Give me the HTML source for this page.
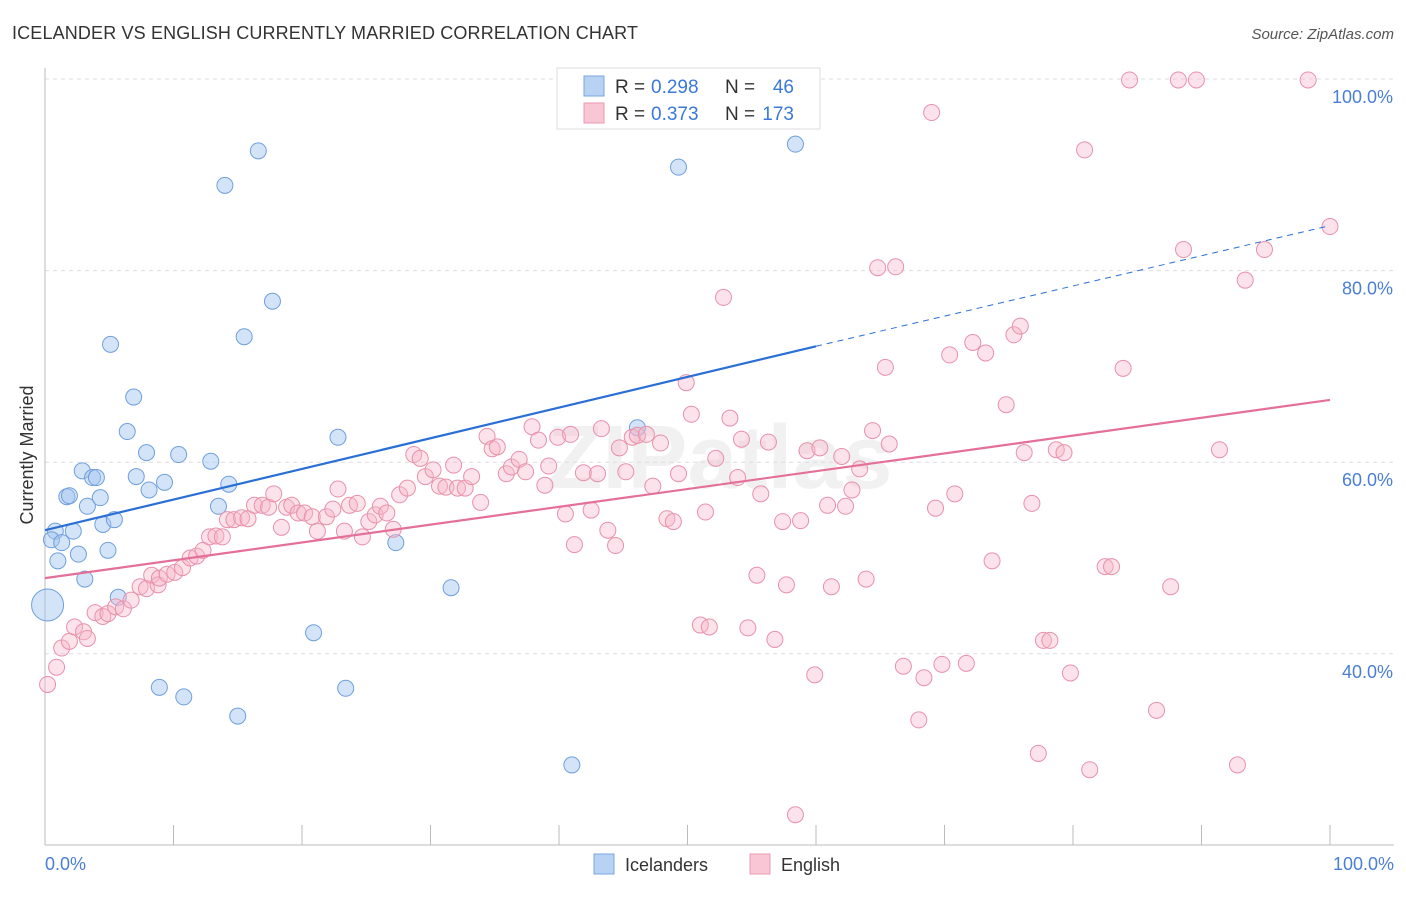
<!DOCTYPE html>
<html><head><meta charset="utf-8"><style>
body{margin:0;background:#fff;font-family:"Liberation Sans",sans-serif}
svg text{font-family:"Liberation Sans",sans-serif}
</style></head><body>
<svg id="chart" width="1406" height="892">
<text x="12" y="39" font-size="18" fill="#333" textLength="626">ICELANDER VS ENGLISH CURRENTLY MARRIED CORRELATION CHART</text>
<text x="1394" y="39" font-size="15" fill="#555" font-style="italic" text-anchor="end">Source: ZipAtlas.com</text>
<text x="720" y="488" font-size="90" fill="#000" opacity="0.05" text-anchor="middle" font-weight="bold">ZIPatlas</text>
<g id="grid"></g><g id="axes"></g><g id="pts"></g><g id="lines"></g>
<text transform="translate(33,455) rotate(-90)" font-size="18" fill="#333" text-anchor="middle">Currently Married</text>
<text x="45" y="870" font-size="18" fill="#4a7fd4">0.0%</text>
<text x="1394" y="870" font-size="18" fill="#4a7fd4" text-anchor="end">100.0%</text>
<g>
<rect x="557" y="68" width="263" height="61" fill="#fff" stroke="#ddd"/>
<rect x="584" y="76" width="20" height="20" fill="#b8d2f4" stroke="#7aa6e0"/>
<rect x="584" y="103" width="20" height="20" fill="#f9c6d5" stroke="#ea98b2"/>
<text x="615" y="93" font-size="19" fill="#333">R =</text>
<text x="651" y="93" font-size="19" fill="#3b78d8">0.298</text>
<text x="725" y="93" font-size="19" fill="#333">N =</text>
<text x="794" y="93" font-size="19" fill="#3b78d8" text-anchor="end">46</text>
<text x="615" y="120" font-size="19" fill="#333">R =</text>
<text x="651" y="120" font-size="19" fill="#3b78d8">0.373</text>
<text x="725" y="120" font-size="19" fill="#333">N =</text>
<text x="794" y="120" font-size="19" fill="#3b78d8" text-anchor="end">173</text>
</g>
<g>
<rect x="594" y="854" width="20" height="20" fill="#b8d2f4" stroke="#7aa6e0"/>
<text x="625" y="871" font-size="18" fill="#333">Icelanders</text>
<rect x="750" y="854" width="20" height="20" fill="#f9c6d5" stroke="#ea98b2"/>
<text x="781" y="871" font-size="18" fill="#333">English</text>
</g>
</svg>
<script>
const yTicks=[40,60,80,100];
const yTickLabels=["40.0%","60.0%","80.0%","100.0%"];
const xTicks=[0,10,20,30,40,50,60,70,80,90,100];
const blueX=[0.2,0.8,0.5,1.3,1.0,2.2,2.6,3.1,2.9,1.7,1.9,3.7,4.0,3.3,4.3,4.5,5.4,4.9,5.7,5.1,6.4,6.9,7.1,7.9,8.1,9.3,10.4,8.9,10.8,12.9,13.5,14.3,14.0,16.6,17.7,15.5,15.0,20.9,22.8,23.4,27.3,31.6,41.0,46.1,49.3,58.4];
const blueY=[45.1,52.8,51.9,51.6,49.7,52.8,50.4,47.8,59.1,56.4,56.5,58.4,58.4,55.4,56.3,53.5,54.0,50.8,45.9,72.3,63.2,66.8,58.5,61.0,57.1,57.9,60.8,36.5,35.5,60.1,55.4,57.7,88.9,92.5,76.8,73.1,33.5,42.2,62.6,36.4,51.6,46.9,28.4,63.6,90.8,93.2];
const pinkX=[0.2,0.9,1.3,1.9,2.3,3.0,3.3,3.9,4.5,4.9,5.5,6.1,6.7,7.4,7.9,8.3,8.8,8.9,9.5,10.1,10.7,11.3,11.8,12.3,12.8,13.3,13.8,14.2,14.7,15.3,15.8,16.3,16.9,17.4,17.8,18.4,18.8,19.2,19.7,20.2,20.8,21.2,21.9,22.4,22.8,23.3,23.7,24.3,24.7,25.2,25.7,26.1,26.6,27.1,27.6,28.2,28.7,29.2,29.6,30.2,30.7,31.2,31.8,32.1,32.7,33.2,33.9,34.4,34.8,35.2,35.9,36.3,36.9,37.4,37.9,38.4,38.9,39.2,39.9,40.5,40.9,41.2,41.9,42.5,43.0,43.3,43.8,44.4,44.7,45.2,45.7,46.1,46.8,47.3,47.9,48.4,48.9,49.3,49.9,50.3,51.0,51.7,51.4,52.2,53.3,53.9,54.2,52.8,54.7,55.4,55.7,56.3,56.8,57.4,57.7,58.8,59.3,59.9,60.3,58.4,60.9,61.2,62.0,62.3,62.8,63.4,63.9,64.4,64.8,65.4,65.7,66.2,66.8,68.0,68.4,69.0,69.3,69.8,70.4,70.8,71.7,72.2,73.2,73.7,74.8,75.4,75.9,76.2,76.8,77.3,77.7,78.2,78.7,79.3,79.8,80.9,81.3,82.5,83.0,83.9,84.4,86.5,87.6,88.2,88.6,89.6,91.4,92.8,93.4,94.9,98.3,100];
const pinkY=[36.8,38.6,40.6,41.3,42.8,42.3,41.6,44.3,43.9,44.2,44.9,44.7,45.6,47.0,46.8,48.2,47.2,47.9,48.3,48.5,49.0,50.0,50.2,50.8,52.2,52.3,52.2,54.0,54.0,54.2,54.1,55.5,55.5,55.3,56.7,53.2,55.3,55.5,54.7,54.7,54.3,52.8,54.3,55.1,57.2,52.8,55.5,55.7,52.2,53.8,54.5,55.4,54.7,53.0,56.6,57.3,60.8,60.4,58.5,59.2,57.5,57.4,59.7,57.3,57.3,58.5,55.8,62.7,61.4,61.6,58.8,59.5,60.3,59.0,63.7,62.3,57.6,59.6,62.6,54.6,62.9,51.4,58.9,55.0,58.8,63.5,52.9,51.3,61.5,59.0,62.6,62.8,62.9,57.5,62.0,54.1,53.8,58.8,68.3,65.0,43.0,42.8,54.8,60.4,64.6,58.4,62.4,77.2,42.7,48.2,56.7,62.1,41.5,53.8,47.2,53.9,61.2,37.8,61.5,23.2,55.5,47.0,60.6,55.4,57.1,59.3,47.8,63.3,80.3,69.9,61.9,80.4,38.7,33.1,37.5,96.5,55.2,38.9,71.2,56.7,39.0,72.5,71.4,49.7,66.0,73.3,74.2,61.0,55.7,29.6,41.4,41.4,61.3,61.0,38.0,92.6,27.9,49.1,49.1,69.8,99.9,34.1,47.0,99.9,82.2,99.9,61.3,28.4,79.0,82.2,99.9,84.6];
const blueFit=[52.9,72.1];
const blueFitEnd=84.7;
const pinkFit=[47.9,66.5];
const NS="http://www.w3.org/2000/svg";
const X=v=>45+v*12.85, Y=v=>79+(100-v)*9.58;
function mk(tag,at,parent){const e=document.createElementNS(NS,tag);for(const k in at)e.setAttribute(k,at[k]);document.getElementById(parent).appendChild(e);return e;}
yTicks.forEach((t,i)=>{
  const g=mk('line',{x1:45,x2:1394,y1:Y(t),y2:Y(t),stroke:'#ddd','stroke-dasharray':'4,4'},'grid');
  
  
  const tx=mk('text',{x:1393,y:Y(t)+24,'font-size':18,fill:'#4a7fd4','text-anchor':'end'},'grid');
  tx.textContent=yTickLabels[i];
  
  
});
let a=mk('line',{x1:45,x2:45,y1:68,y2:845,stroke:'#bbb'},'axes');


a=mk('line',{x1:45,x2:1394,y1:845,y2:845,stroke:'#bbb'},'axes');


xTicks.forEach(t=>{const l=mk('line',{x1:X(t),x2:X(t),y1:825,y2:845,stroke:'#bbb'},'axes');
  
  });
blueX.forEach((v,i)=>{const c=mk('circle',{cx:X(v),cy:Y(blueY[i]),r:i==0?16:8,fill:'rgba(160,196,240,0.45)',stroke:'#6f9fdc','stroke-width':1},'pts');
  
  });
pinkX.forEach((v,i)=>{const c=mk('circle',{cx:X(v),cy:Y(pinkY[i]),r:8,fill:'rgba(248,182,202,0.4)',stroke:'#e891ab','stroke-width':1},'pts');
  
  });
let l=mk('line',{x1:X(0),y1:Y(blueFit[0]),x2:X(60),y2:Y(blueFit[1]),stroke:'#2a6fd6','stroke-width':2.2},'lines');


l=mk('line',{x1:X(60),y1:Y(blueFit[1]),x2:X(100),y2:Y(blueFitEnd),stroke:'#2a6fd6','stroke-width':1,'stroke-dasharray':'6,5'},'lines');


l=mk('line',{x1:X(0),y1:Y(pinkFit[0]),x2:X(100),y2:Y(pinkFit[1]),stroke:'#e4709a','stroke-width':2.2},'lines');


</script>
</body></html>
